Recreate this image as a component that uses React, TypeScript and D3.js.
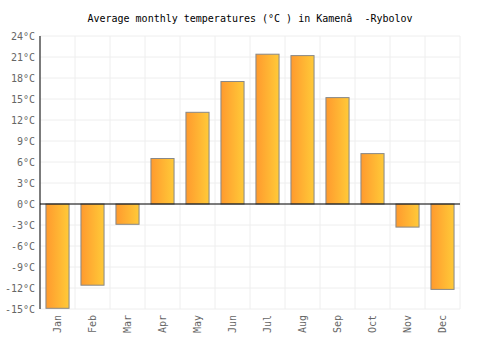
import React from 'react';
import * as d3 from 'd3';

const months = ['Jan', 'Feb', 'Mar', 'Apr', 'May', 'Jun', 'Jul', 'Aug', 'Sep', 'Oct', 'Nov', 'Dec'];
const temps = [-14.9, -11.6, -2.9, 6.5, 13.1, 17.5, 21.4, 21.2, 15.2, 7.2, -3.3, -12.2];
const yTicks = [-15, -12, -9, -6, -3, 0, 3, 6, 9, 12, 15, 18, 21, 24];

const App = () => {
    const width = 500;
    const height = 350;
    const left = 40, right = 460, top = 36, bottom = 309;
    const font = '"DejaVu Sans Mono", monospace';

    const x = d3.scaleBand().domain(months).range([left, right]).paddingInner(0.34).paddingOuter(0.17);
    const step = (right - left) / months.length;
    const y = d3.scaleLinear().domain([-15, 24]).range([bottom, top]);

    return (
        <svg width={width} height={height} style={{ position: 'absolute', left: 0, top: 0 }}>
            <defs>
                <linearGradient id="barGrad" x1="0" x2="1" y1="0" y2="0">
                    <stop offset="0%" stopColor="#ff9a2e" />
                    <stop offset="100%" stopColor="#ffca38" />
                </linearGradient>
            </defs>
            <rect width={width} height={height} fill="#fff" />
            <text x={250} y={22} textAnchor="middle" fontFamily={font} fontSize={10} fill="#000" style={{ whiteSpace: 'pre' }}>
                {'Average monthly temperatures (°C ) in Kamenâ  -Rybolov'}
            </text>
            {yTicks.map(t => (
                <g key={t}>
                    <line x1={left} x2={right} y1={y(t)} y2={y(t)} stroke="#eee" strokeWidth={1} />
                    <text x={35} y={y(t) + 4} textAnchor="end" fontFamily={font} fontSize={10} fill="#666">
                        {t}°C
                    </text>
                </g>
            ))}
            {d3.range(months.length + 1).map(i => (
                <line key={i} x1={left + i * step} x2={left + i * step} y1={top} y2={bottom} stroke="#eee" strokeWidth={1} />
            ))}
            {temps.map((v, i) => (
                <rect key={months[i]}
                    x={x(months[i])}
                    y={y(Math.max(0, v))}
                    width={x.bandwidth()}
                    height={Math.abs(y(v) - y(0))}
                    fill="url(#barGrad)"
                    stroke="#888"
                    strokeWidth={1} />
            ))}
            <line x1={left} x2={right} y1={y(0)} y2={y(0)} stroke="#000" strokeWidth={1} />
            <line x1={left} x2={left} y1={top} y2={bottom} stroke="#000" strokeWidth={1} />
            {months.map(m => {
                const cx = (x(m) as number) + x.bandwidth() / 2 + 3;
                return (
                    <text key={m} transform={`translate(${cx},${bottom + 6}) rotate(-90)`}
                        textAnchor="end" fontFamily={font} fontSize={10} fill="#666">
                        {m}
                    </text>
                );
            })}
        </svg>
    );
};

export default App;
